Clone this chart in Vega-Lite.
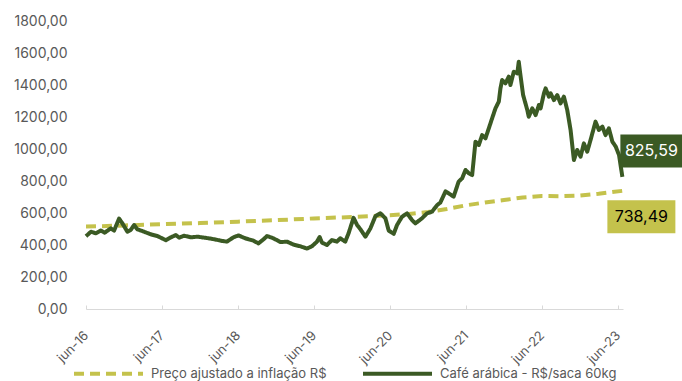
{
  "$schema": "https://vega.github.io/schema/vega-lite/v6.json",
  "width": 537,
  "height": 288,
  "autosize": {"type": "none"},
  "padding": {"left": 86, "top": 21, "right": 59, "bottom": 72},
  "background": "white",
  "config": {
    "view": {"stroke": null},
    "font": "Inter",
    "locale": {
      "number": {"decimal": ",", "thousands": ".", "grouping": [3], "currency": ["R$ ", ""]}
    }
  },
  "data": {
    "values": [
      {"data": "2016-06-01", "serie": "Preço ajustado a inflação R$", "valor": 515},
      {"data": "2016-12-01", "serie": "Preço ajustado a inflação R$", "valor": 522},
      {"data": "2017-06-01", "serie": "Preço ajustado a inflação R$", "valor": 530},
      {"data": "2017-12-01", "serie": "Preço ajustado a inflação R$", "valor": 537},
      {"data": "2018-06-01", "serie": "Preço ajustado a inflação R$", "valor": 546},
      {"data": "2018-12-01", "serie": "Preço ajustado a inflação R$", "valor": 555},
      {"data": "2019-06-01", "serie": "Preço ajustado a inflação R$", "valor": 566},
      {"data": "2019-12-01", "serie": "Preço ajustado a inflação R$", "valor": 575},
      {"data": "2020-06-01", "serie": "Preço ajustado a inflação R$", "valor": 586},
      {"data": "2020-09-01", "serie": "Preço ajustado a inflação R$", "valor": 594},
      {"data": "2020-12-01", "serie": "Preço ajustado a inflação R$", "valor": 606},
      {"data": "2021-03-01", "serie": "Preço ajustado a inflação R$", "valor": 625},
      {"data": "2021-06-01", "serie": "Preço ajustado a inflação R$", "valor": 648},
      {"data": "2021-09-01", "serie": "Preço ajustado a inflação R$", "valor": 666},
      {"data": "2021-12-01", "serie": "Preço ajustado a inflação R$", "valor": 681},
      {"data": "2022-03-01", "serie": "Preço ajustado a inflação R$", "valor": 697},
      {"data": "2022-06-01", "serie": "Preço ajustado a inflação R$", "valor": 706},
      {"data": "2022-09-01", "serie": "Preço ajustado a inflação R$", "valor": 705},
      {"data": "2022-12-01", "serie": "Preço ajustado a inflação R$", "valor": 709},
      {"data": "2023-03-01", "serie": "Preço ajustado a inflação R$", "valor": 720},
      {"data": "2023-06-23", "serie": "Preço ajustado a inflação R$", "valor": 738.49},

      {"data": "2016-06-01", "serie": "Café arábica - R$/saca 60kg", "valor": 455},
      {"data": "2016-06-25", "serie": "Café arábica - R$/saca 60kg", "valor": 483},
      {"data": "2016-07-18", "serie": "Café arábica - R$/saca 60kg", "valor": 473},
      {"data": "2016-08-11", "serie": "Café arábica - R$/saca 60kg", "valor": 490},
      {"data": "2016-08-30", "serie": "Café arábica - R$/saca 60kg", "valor": 477},
      {"data": "2016-09-28", "serie": "Café arábica - R$/saca 60kg", "valor": 504},
      {"data": "2016-10-14", "serie": "Café arábica - R$/saca 60kg", "valor": 490},
      {"data": "2016-11-07", "serie": "Café arábica - R$/saca 60kg", "valor": 565},
      {"data": "2016-11-23", "serie": "Café arábica - R$/saca 60kg", "valor": 535},
      {"data": "2016-12-17", "serie": "Café arábica - R$/saca 60kg", "valor": 483},
      {"data": "2017-01-02", "serie": "Café arábica - R$/saca 60kg", "valor": 494},
      {"data": "2017-01-18", "serie": "Café arábica - R$/saca 60kg", "valor": 525},
      {"data": "2017-02-03", "serie": "Café arábica - R$/saca 60kg", "valor": 498},
      {"data": "2017-03-07", "serie": "Café arábica - R$/saca 60kg", "valor": 483},
      {"data": "2017-04-08", "serie": "Café arábica - R$/saca 60kg", "valor": 467},
      {"data": "2017-05-10", "serie": "Café arábica - R$/saca 60kg", "valor": 456},
      {"data": "2017-06-20", "serie": "Café arábica - R$/saca 60kg", "valor": 430},
      {"data": "2017-07-14", "serie": "Café arábica - R$/saca 60kg", "valor": 448},
      {"data": "2017-08-07", "serie": "Café arábica - R$/saca 60kg", "valor": 462},
      {"data": "2017-08-23", "serie": "Café arábica - R$/saca 60kg", "valor": 446},
      {"data": "2017-09-16", "serie": "Café arábica - R$/saca 60kg", "valor": 458},
      {"data": "2017-10-18", "serie": "Café arábica - R$/saca 60kg", "valor": 448},
      {"data": "2017-11-19", "serie": "Café arábica - R$/saca 60kg", "valor": 452},
      {"data": "2017-12-21", "serie": "Café arábica - R$/saca 60kg", "valor": 446},
      {"data": "2018-01-30", "serie": "Café arábica - R$/saca 60kg", "valor": 438},
      {"data": "2018-03-19", "serie": "Café arábica - R$/saca 60kg", "valor": 425},
      {"data": "2018-04-09", "serie": "Café arábica - R$/saca 60kg", "valor": 421},
      {"data": "2018-05-11", "serie": "Café arábica - R$/saca 60kg", "valor": 448},
      {"data": "2018-06-04", "serie": "Café arábica - R$/saca 60kg", "valor": 460},
      {"data": "2018-07-06", "serie": "Café arábica - R$/saca 60kg", "valor": 442},
      {"data": "2018-08-15", "serie": "Café arábica - R$/saca 60kg", "valor": 427},
      {"data": "2018-09-08", "serie": "Café arábica - R$/saca 60kg", "valor": 410},
      {"data": "2018-10-02", "serie": "Café arábica - R$/saca 60kg", "valor": 435},
      {"data": "2018-10-19", "serie": "Café arábica - R$/saca 60kg", "valor": 456},
      {"data": "2018-11-19", "serie": "Café arábica - R$/saca 60kg", "valor": 442},
      {"data": "2018-12-22", "serie": "Café arábica - R$/saca 60kg", "valor": 418},
      {"data": "2019-01-23", "serie": "Café arábica - R$/saca 60kg", "valor": 421},
      {"data": "2019-02-24", "serie": "Café arábica - R$/saca 60kg", "valor": 402},
      {"data": "2019-03-28", "serie": "Café arábica - R$/saca 60kg", "valor": 392},
      {"data": "2019-04-29", "serie": "Café arábica - R$/saca 60kg", "valor": 378},
      {"data": "2019-05-23", "serie": "Café arábica - R$/saca 60kg", "valor": 392},
      {"data": "2019-06-16", "serie": "Café arábica - R$/saca 60kg", "valor": 421},
      {"data": "2019-06-29", "serie": "Café arábica - R$/saca 60kg", "valor": 450},
      {"data": "2019-07-10", "serie": "Café arábica - R$/saca 60kg", "valor": 415},
      {"data": "2019-08-03", "serie": "Café arábica - R$/saca 60kg", "valor": 400},
      {"data": "2019-08-27", "serie": "Café arábica - R$/saca 60kg", "valor": 431},
      {"data": "2019-09-20", "serie": "Café arábica - R$/saca 60kg", "valor": 421},
      {"data": "2019-10-06", "serie": "Café arábica - R$/saca 60kg", "valor": 442},
      {"data": "2019-10-30", "serie": "Café arábica - R$/saca 60kg", "valor": 421},
      {"data": "2019-11-15", "serie": "Café arábica - R$/saca 60kg", "valor": 473},
      {"data": "2019-12-09", "serie": "Café arábica - R$/saca 60kg", "valor": 570},
      {"data": "2019-12-26", "serie": "Café arábica - R$/saca 60kg", "valor": 525},
      {"data": "2020-01-10", "serie": "Café arábica - R$/saca 60kg", "valor": 500},
      {"data": "2020-02-04", "serie": "Café arábica - R$/saca 60kg", "valor": 452},
      {"data": "2020-02-28", "serie": "Café arábica - R$/saca 60kg", "valor": 504},
      {"data": "2020-03-23", "serie": "Café arábica - R$/saca 60kg", "valor": 580},
      {"data": "2020-04-16", "serie": "Café arábica - R$/saca 60kg", "valor": 598},
      {"data": "2020-05-10", "serie": "Café arábica - R$/saca 60kg", "valor": 567},
      {"data": "2020-05-26", "serie": "Café arábica - R$/saca 60kg", "valor": 490},
      {"data": "2020-06-19", "serie": "Café arábica - R$/saca 60kg", "valor": 470},
      {"data": "2020-07-05", "serie": "Café arábica - R$/saca 60kg", "valor": 525},
      {"data": "2020-07-29", "serie": "Café arábica - R$/saca 60kg", "valor": 577},
      {"data": "2020-08-22", "serie": "Café arábica - R$/saca 60kg", "valor": 598},
      {"data": "2020-09-15", "serie": "Café arábica - R$/saca 60kg", "valor": 556},
      {"data": "2020-10-01", "serie": "Café arábica - R$/saca 60kg", "valor": 535},
      {"data": "2020-11-02", "serie": "Café arábica - R$/saca 60kg", "valor": 567},
      {"data": "2020-11-26", "serie": "Café arábica - R$/saca 60kg", "valor": 598},
      {"data": "2020-12-20", "serie": "Café arábica - R$/saca 60kg", "valor": 608},
      {"data": "2021-01-14", "serie": "Café arábica - R$/saca 60kg", "valor": 650},
      {"data": "2021-01-29", "serie": "Café arábica - R$/saca 60kg", "valor": 665},
      {"data": "2021-02-23", "serie": "Café arábica - R$/saca 60kg", "valor": 735},
      {"data": "2021-03-10", "serie": "Café arábica - R$/saca 60kg", "valor": 723},
      {"data": "2021-04-03", "serie": "Café arábica - R$/saca 60kg", "valor": 702},
      {"data": "2021-04-27", "serie": "Café arábica - R$/saca 60kg", "valor": 796},
      {"data": "2021-05-14", "serie": "Café arábica - R$/saca 60kg", "valor": 817},
      {"data": "2021-05-30", "serie": "Café arábica - R$/saca 60kg", "valor": 869},
      {"data": "2021-06-15", "serie": "Café arábica - R$/saca 60kg", "valor": 848},
      {"data": "2021-07-01", "serie": "Café arábica - R$/saca 60kg", "valor": 837},
      {"data": "2021-07-17", "serie": "Café arábica - R$/saca 60kg", "valor": 1046},
      {"data": "2021-08-02", "serie": "Café arábica - R$/saca 60kg", "valor": 1025},
      {"data": "2021-08-18", "serie": "Café arábica - R$/saca 60kg", "valor": 1087},
      {"data": "2021-09-03", "serie": "Café arábica - R$/saca 60kg", "valor": 1067},
      {"data": "2021-09-19", "serie": "Café arábica - R$/saca 60kg", "valor": 1129},
      {"data": "2021-10-05", "serie": "Café arábica - R$/saca 60kg", "valor": 1192},
      {"data": "2021-10-21", "serie": "Café arábica - R$/saca 60kg", "valor": 1254},
      {"data": "2021-11-06", "serie": "Café arábica - R$/saca 60kg", "valor": 1296},
      {"data": "2021-11-14", "serie": "Café arábica - R$/saca 60kg", "valor": 1379},
      {"data": "2021-11-22", "serie": "Café arábica - R$/saca 60kg", "valor": 1431},
      {"data": "2021-12-08", "serie": "Café arábica - R$/saca 60kg", "valor": 1410},
      {"data": "2021-12-24", "serie": "Café arábica - R$/saca 60kg", "valor": 1452},
      {"data": "2022-01-01", "serie": "Café arábica - R$/saca 60kg", "valor": 1400},
      {"data": "2022-01-17", "serie": "Café arábica - R$/saca 60kg", "valor": 1483},
      {"data": "2022-02-03", "serie": "Café arábica - R$/saca 60kg", "valor": 1473},
      {"data": "2022-02-10", "serie": "Café arábica - R$/saca 60kg", "valor": 1546},
      {"data": "2022-02-18", "serie": "Café arábica - R$/saca 60kg", "valor": 1462},
      {"data": "2022-03-03", "serie": "Café arábica - R$/saca 60kg", "valor": 1337},
      {"data": "2022-03-23", "serie": "Café arábica - R$/saca 60kg", "valor": 1244},
      {"data": "2022-03-30", "serie": "Café arábica - R$/saca 60kg", "valor": 1202},
      {"data": "2022-04-16", "serie": "Café arábica - R$/saca 60kg", "valor": 1254},
      {"data": "2022-05-02", "serie": "Café arábica - R$/saca 60kg", "valor": 1212},
      {"data": "2022-05-18", "serie": "Café arábica - R$/saca 60kg", "valor": 1275},
      {"data": "2022-05-26", "serie": "Café arábica - R$/saca 60kg", "valor": 1254},
      {"data": "2022-06-11", "serie": "Café arábica - R$/saca 60kg", "valor": 1348},
      {"data": "2022-06-19", "serie": "Café arábica - R$/saca 60kg", "valor": 1379},
      {"data": "2022-07-05", "serie": "Café arábica - R$/saca 60kg", "valor": 1327},
      {"data": "2022-07-13", "serie": "Café arábica - R$/saca 60kg", "valor": 1348},
      {"data": "2022-07-29", "serie": "Café arábica - R$/saca 60kg", "valor": 1306},
      {"data": "2022-08-14", "serie": "Café arábica - R$/saca 60kg", "valor": 1337},
      {"data": "2022-08-30", "serie": "Café arábica - R$/saca 60kg", "valor": 1285},
      {"data": "2022-09-15", "serie": "Café arábica - R$/saca 60kg", "valor": 1327},
      {"data": "2022-10-01", "serie": "Café arábica - R$/saca 60kg", "valor": 1244},
      {"data": "2022-10-17", "serie": "Café arábica - R$/saca 60kg", "valor": 1119},
      {"data": "2022-11-02", "serie": "Café arábica - R$/saca 60kg", "valor": 931},
      {"data": "2022-11-18", "serie": "Café arábica - R$/saca 60kg", "valor": 994},
      {"data": "2022-12-04", "serie": "Café arábica - R$/saca 60kg", "valor": 952},
      {"data": "2022-12-20", "serie": "Café arábica - R$/saca 60kg", "valor": 1035},
      {"data": "2023-01-05", "serie": "Café arábica - R$/saca 60kg", "valor": 983},
      {"data": "2023-01-21", "serie": "Café arábica - R$/saca 60kg", "valor": 1056},
      {"data": "2023-02-14", "serie": "Café arábica - R$/saca 60kg", "valor": 1171},
      {"data": "2023-03-02", "serie": "Café arábica - R$/saca 60kg", "valor": 1119},
      {"data": "2023-03-19", "serie": "Café arábica - R$/saca 60kg", "valor": 1140},
      {"data": "2023-04-03", "serie": "Café arábica - R$/saca 60kg", "valor": 1087},
      {"data": "2023-04-19", "serie": "Café arábica - R$/saca 60kg", "valor": 1129},
      {"data": "2023-05-06", "serie": "Café arábica - R$/saca 60kg", "valor": 1046},
      {"data": "2023-05-22", "serie": "Café arábica - R$/saca 60kg", "valor": 1015},
      {"data": "2023-06-07", "serie": "Café arábica - R$/saca 60kg", "valor": 962},
      {"data": "2023-06-23", "serie": "Café arábica - R$/saca 60kg", "valor": 825.59}
    ]
  },
  "encoding": {
    "x": {
      "field": "data",
      "type": "temporal",
      "scale": {"domain": [{"year": 2016, "month": 6, "date": 1}, {"year": 2023, "month": 6, "date": 26}]},
      "axis": {
        "title": null,
        "grid": false,
        "values": [
          {"year": 2016, "month": 6, "date": 1},
          {"year": 2017, "month": 6, "date": 1},
          {"year": 2018, "month": 6, "date": 1},
          {"year": 2019, "month": 6, "date": 1},
          {"year": 2020, "month": 6, "date": 1},
          {"year": 2021, "month": 6, "date": 1},
          {"year": 2022, "month": 6, "date": 1},
          {"year": 2023, "month": 6, "date": 1}
        ],
        "labelExpr": "'jun-' + timeFormat(datum.value, '%y')",
        "labelAngle": -45,
        "labelAlign": "right",
        "labelBaseline": "middle",
        "labelFontSize": 13,
        "labelColor": "#595959",
        "labelPadding": 28,
        "labelFlush": false,
        "labelOverlap": false,
        "domainColor": "#d9d9d9",
        "domainWidth": 1,
        "tickColor": "#d9d9d9",
        "tickSize": -4
      }
    },
    "y": {
      "field": "valor",
      "type": "quantitative",
      "scale": {"domain": [0, 1800], "nice": false},
      "axis": {
        "title": null,
        "grid": false,
        "domain": false,
        "ticks": false,
        "values": [0, 200, 400, 600, 800, 1000, 1200, 1400, 1600, 1800],
        "format": ".2f",
        "labelFontSize": 14,
        "labelColor": "#595959",
        "labelPadding": 19
      }
    }
  },
  "layer": [
    {
      "mark": {"type": "line", "strokeWidth": 4, "strokeJoin": "round"},
      "encoding": {
        "color": {
          "field": "serie",
          "type": "nominal",
          "sort": null,
          "scale": {
            "domain": ["Preço ajustado a inflação R$", "Café arábica - R$/saca 60kg"],
            "range": ["#c4c24c", "#3b5a24"]
          },
          "legend": {
            "title": null,
            "orient": "none",
            "legendX": -14,
            "legendY": 316,
            "direction": "horizontal",
            "symbolType": "stroke",
            "symbolSize": 4761,
            "symbolStrokeWidth": 4,
            "labelFontSize": 13,
            "labelColor": "#595959",
            "labelLimit": 400,
            "labelOffset": 6,
            "columnPadding": 28
          }
        },
        "strokeDash": {
          "field": "serie",
          "type": "nominal",
          "sort": null,
          "scale": {
            "domain": ["Preço ajustado a inflação R$", "Café arábica - R$/saca 60kg"],
            "range": [[10, 6], [1, 0]]
          },
          "legend": {
            "title": null,
            "orient": "none",
            "legendX": -14,
            "legendY": 316,
            "direction": "horizontal",
            "symbolType": "stroke",
            "symbolSize": 4761,
            "symbolStrokeWidth": 4,
            "labelFontSize": 13,
            "labelColor": "#595959",
            "labelLimit": 400,
            "labelOffset": 6,
            "columnPadding": 28
          }
        }
      }
    },
    {
      "transform": [
        {"joinaggregate": [{"op": "max", "field": "data", "as": "ultima"}], "groupby": ["serie"]},
        {"filter": "time(datum.data) == time(datum.ultima) && datum.serie == 'Café arábica - R$/saca 60kg'"}
      ],
      "layer": [
        {
          "mark": {
            "type": "point",
            "shape": "M-1,-0.532L1,-0.532L1,0.532L-1,0.532Z",
            "size": 3844,
            "filled": true,
            "opacity": 1,
            "color": "#3b5a24",
            "strokeWidth": 0,
            "xOffset": 29,
            "yOffset": -26
          }
        },
        {
          "mark": {"type": "text", "dx": 29, "dy": -26, "align": "center", "baseline": "middle", "fontSize": 16, "color": "white"},
          "encoding": {"text": {"field": "valor", "type": "quantitative", "format": ".2f"}}
        }
      ]
    },
    {
      "transform": [
        {"joinaggregate": [{"op": "max", "field": "data", "as": "ultima"}], "groupby": ["serie"]},
        {"filter": "time(datum.data) == time(datum.ultima) && datum.serie == 'Preço ajustado a inflação R$'"}
      ],
      "layer": [
        {
          "mark": {
            "type": "point",
            "shape": "M-1,-0.485L1,-0.485L1,0.485L-1,0.485Z",
            "size": 4624,
            "filled": true,
            "opacity": 1,
            "color": "#c4c24c",
            "strokeWidth": 0,
            "xOffset": 19,
            "yOffset": 26
          }
        },
        {
          "mark": {"type": "text", "dx": 19, "dy": 26, "align": "center", "baseline": "middle", "fontSize": 16, "color": "black"},
          "encoding": {"text": {"field": "valor", "type": "quantitative", "format": ".2f"}}
        }
      ]
    }
  ]
}
